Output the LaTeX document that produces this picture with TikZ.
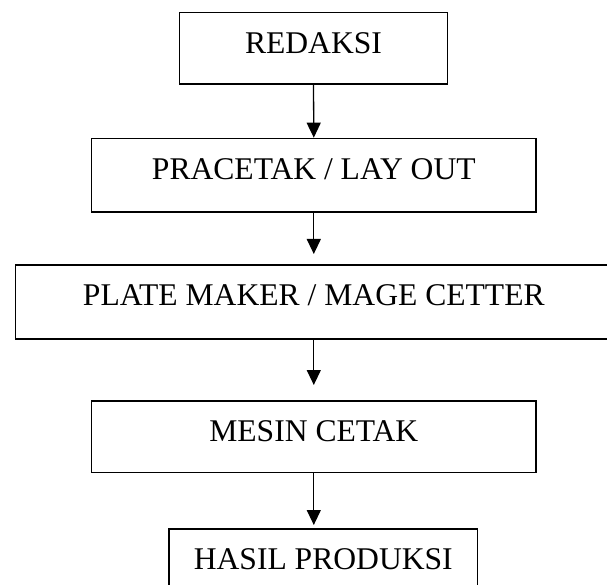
\documentclass[tikz,border=0pt]{standalone}
\usepackage{fontspec}
\setmainfont{Liberation Serif}
\usetikzlibrary{arrows.meta}

\tikzset{
  stagebox/.style={draw, line width=1.6pt, rectangle, inner sep=0pt,
    anchor=north west, text height=40.6pt,
    font=\fontsize{31.6}{38}\selectfont},
  flow/.style={draw, line width=1.3pt, -{Triangle[length=15pt,width=14pt]}}
}

\begin{document}
\begin{tikzpicture}[x=1pt, y=-1pt]
  \useasboundingbox (0,0) rectangle (607,585);
  \clip (0,0) rectangle (607,585);

  \node[stagebox, minimum width=268pt, text depth=31pt] (redaksi)
    at (178.7,11.7) {REDAKSI};
  \node[stagebox, minimum width=444.6pt, text depth=33pt] (pracetak)
    at (90.7,137.7) {PRACETAK / LAY OUT};
  \node[stagebox, minimum width=596.6pt, text depth=33.4pt] (plate)
    at (14.7,264) {PLATE MAKER / MAGE CETTER};
  \node[stagebox, minimum width=444.6pt, text depth=31.1pt] (mesin)
    at (90.7,400) {MESIN CETAK};
  \node[stagebox, minimum width=308.4pt, text depth=31.4pt] (hasil)
    at (168.3,528) {HASIL PRODUKSI};

  \draw[flow] (redaksi.south) -- (pracetak.north);
  \draw[flow, shorten >=10pt] (pracetak.south) -- (plate.north);
  \draw[flow, shorten >=15pt] (plate.south) -- (mesin.north);
  \draw[flow, shorten >=3pt] (mesin.south) -- (mesin.south |- hasil.north);
\end{tikzpicture}
\end{document}
